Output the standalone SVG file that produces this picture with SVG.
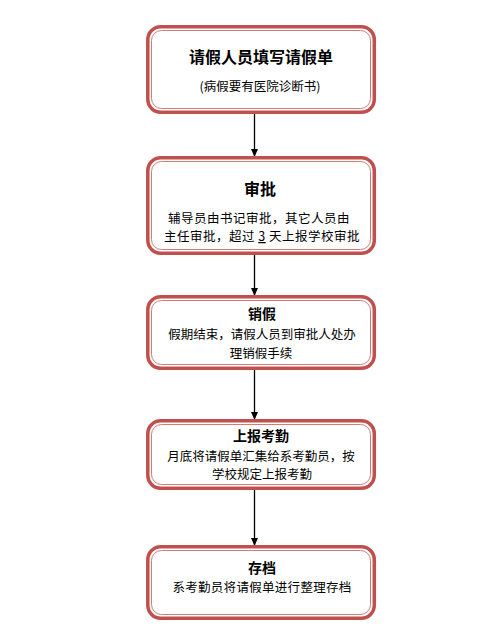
<svg xmlns="http://www.w3.org/2000/svg" width="493" height="627" viewBox="0 0 493 627">
<style>
.o{fill:#fff;stroke:#c0504d;stroke-width:3.5}
.i{fill:none;stroke:#d47a77;stroke-width:1}
text{font-family:"Noto Sans CJK SC","Noto Sans",sans-serif;fill:#000;text-anchor:middle;dominant-baseline:central}
.t1{font-size:16px;font-weight:bold}
.t2{font-size:14px;font-weight:bold}
.s{font-size:12.5px}
.c{stroke:#000;stroke-width:1.3;fill:none}
</style>
<defs>
<marker id="ah" markerWidth="8" markerHeight="8" refX="7" refY="4" orient="auto" markerUnits="userSpaceOnUse">
<path d="M0,0.5 L8,4 L0,7.5 Z" fill="#000"/>
</marker>
</defs>
<rect width="493" height="627" fill="#fff"/>
<g id="connectors">
<line class="c" x1="254.5" y1="114" x2="254.5" y2="156" marker-end="url(#ah)"/>
<line class="c" x1="254.5" y1="255" x2="254.5" y2="295" marker-end="url(#ah)"/>
<line class="c" x1="254.5" y1="370" x2="254.5" y2="419" marker-end="url(#ah)"/>
<line class="c" x1="254.5" y1="490" x2="254.5" y2="545" marker-end="url(#ah)"/>
</g>
<g id="node1">
<rect class="o" x="147.8" y="26.8" width="226.5" height="85.5" rx="13"/>
<rect class="i" x="151.5" y="30.5" width="219" height="78" rx="10"/>
<text class="t1" x="261" y="56">请假人员填写请假单</text>
<text class="s" x="260" y="85">(病假要有医院诊断书)</text>
</g>
<g id="node2">
<rect class="o" x="147.8" y="157.8" width="226.5" height="95.5" rx="13"/>
<rect class="i" x="151.5" y="161.5" width="219" height="88" rx="10"/>
<text class="t1" x="260" y="188">审批</text>
<text class="s" x="259" y="217" letter-spacing="0.5">辅导员由书记审批，其它人员由</text>
<text class="s" x="262" y="235" letter-spacing="0.5">主任审批，超过 <tspan text-decoration="underline">3</tspan> 天上报学校审批</text>
</g>
<g id="node3">
<rect class="o" x="147.8" y="296.8" width="226.5" height="71.5" rx="13"/>
<rect class="i" x="151.5" y="300.5" width="219" height="64" rx="10"/>
<text class="t2" x="262" y="312.5">销假</text>
<text class="s" x="262" y="333">假期结束，请假人员到审批人处办</text>
<text class="s" x="261" y="352">理销假手续</text>
</g>
<g id="node4">
<rect class="o" x="147.8" y="420.8" width="226.5" height="67.5" rx="13"/>
<rect class="i" x="151.5" y="424.5" width="219" height="60" rx="10"/>
<text class="t2" x="261" y="435">上报考勤</text>
<text class="s" x="261" y="455.5">月底将请假单汇集给系考勤员，按</text>
<text class="s" x="262" y="473">学校规定上报考勤</text>
</g>
<g id="node5">
<rect class="o" x="147.8" y="546.8" width="226.5" height="71.5" rx="13"/>
<rect class="i" x="151.5" y="550.5" width="219" height="64" rx="10"/>
<text class="t2" x="262" y="567">存档</text>
<text class="s" x="262" y="586" letter-spacing="0.3">系考勤员将请假单进行整理存档</text>
</g>
</svg>
